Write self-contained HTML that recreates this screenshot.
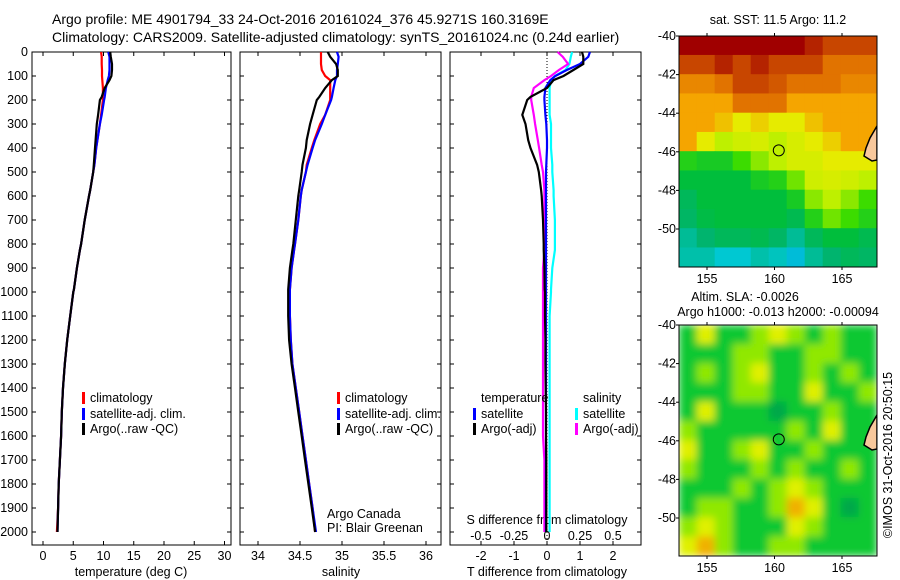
<!DOCTYPE html>
<html><head><meta charset="utf-8"><style>
body{margin:0;background:#fff}
svg{display:block;font-family:"Liberation Sans",sans-serif}
text{font-size:12.5px;fill:#000}
</style></head><body>
<svg id="s" width="900" height="580" viewBox="0 0 900 580">
<text x="52" y="24" style="font-size:14px">Argo profile: ME 4901794_33 24-Oct-2016 20161024_376 45.9271S 160.3169E</text>
<text x="52" y="42" style="font-size:14px">Climatology: CARS2009. Satellite-adjusted climatology: synTS_20161024.nc (0.24d earlier)</text>
<g id="g"></g>
</svg>
<script>
// ---- data ----
const depths=[0,20,50,75,100,117,150,187,200,262,300,367,400,470,500,575,600,700,800,825,900,990,1000,1100,1200,1300,1400,1500,1600,1700,1800,1900,2000];
const tArgo=[11.1,11.2,11.4,11.4,11.3,11.0,10.2,9.7,9.4,9.1,8.9,8.7,8.6,8.4,8.3,7.8,7.6,6.9,6.3,6.1,5.6,5.1,5.0,4.5,4.0,3.6,3.3,3.1,3.0,2.8,2.6,2.5,2.4];
const tClim=[9.6,9.7,9.7,9.75,9.75,9.8,9.9,9.9,9.9,9.6,9.4,9.0,8.8,8.5,8.3,7.8,7.6,6.9,6.3,6.1,5.6,5.1,5.0,4.5,4.0,3.6,3.3,3.1,3.0,2.8,2.6,2.5,2.3];
const tSat=[10.8,11.0,11.0,11.0,10.9,10.7,10.4,10.2,10.1,9.7,9.4,9.0,8.8,8.5,8.3,7.8,7.6,6.9,6.3,6.1,5.6,5.1,5.0,4.5,4.0,3.6,3.3,3.1,3.0,2.8,2.6,2.5,2.4];
const sArgo=[34.83,34.86,34.93,34.95,34.95,34.88,34.80,34.73,34.70,34.65,34.62,34.58,34.57,34.53,34.52,34.49,34.48,34.45,34.42,34.41,34.38,34.36,34.36,34.36,34.37,34.40,34.44,34.48,34.52,34.56,34.60,34.64,34.68];
const sClim=[34.75,34.75,34.75,34.76,34.80,34.86,34.86,34.86,34.86,34.80,34.74,34.67,34.64,34.58,34.57,34.52,34.51,34.48,34.44,34.43,34.40,34.38,34.38,34.38,34.39,34.41,34.45,34.49,34.53,34.57,34.61,34.65,34.68];
const sSat=[34.94,34.96,34.95,34.94,34.94,34.92,34.90,34.88,34.87,34.80,34.76,34.68,34.65,34.59,34.57,34.52,34.51,34.48,34.44,34.43,34.40,34.38,34.38,34.38,34.39,34.41,34.45,34.49,34.53,34.57,34.61,34.65,34.69];
const dT_argo=[1.06,1.10,1.10,0.8,0.5,0.2,0.0,-0.5,-0.6,-0.75,-0.65,-0.57,-0.5,-0.3,-0.25,-0.18,-0.16,-0.12,-0.1,-0.1,-0.08,-0.07,-0.06,-0.06,-0.05,-0.05,-0.04,-0.03,-0.03,-0.02,-0.02,-0.02,-0.02];
const dT_sat=[1.3,1.25,1.0,0.6,0.25,0.1,-0.05,-0.08,-0.08,-0.05,-0.02,0.0,0.0,-0.02,-0.03,-0.03,-0.03,-0.03,-0.03,-0.03,-0.03,-0.03,-0.03,-0.03,-0.03,-0.03,-0.03,-0.03,-0.03,-0.03,-0.03,-0.03,-0.03];
const dS_argo=[0.08,0.12,0.16,0.09,0.03,-0.02,-0.1,-0.12,-0.12,-0.1,-0.09,-0.07,-0.06,-0.04,-0.03,-0.02,-0.02,-0.02,-0.02,-0.02,-0.03,-0.03,-0.03,-0.03,-0.03,-0.03,-0.03,-0.03,-0.03,-0.02,-0.02,-0.02,-0.02];
const dS_sat=[0.19,0.18,0.17,0.14,0.06,0.03,0.02,0.02,0.02,0.02,0.03,0.03,0.03,0.04,0.04,0.05,0.05,0.06,0.06,0.06,0.04,0.03,0.03,0.02,0.02,0.02,0.02,0.02,0.02,0.02,0.02,0.02,0.02];
const depthTicks=[0,100,200,300,400,500,600,700,800,900,1000,1100,1200,1300,1400,1500,1600,1700,1800,1900,2000];
const tTicks=[0,5,10,15,20,25,30];
const sTicks=[34,34.5,35,35.5,36];
const dTTicks=[-2,-1,0,1,2];
const dSTicks=[-0.5,-0.25,0,0.25,0.5];
const dSLabels=["-0.5","-0.25","0","0.25","0.5"];
const latTicks=[-40,-42,-44,-46,-48,-50];
const lonTicks=[155,160,165];
const sstGrid=[
[14,14,14,14,14,14,14,13.5,13,13,13],
[13,13,13.5,13,13.5,13,13,13,12.5,12.5,12.5],
[12.3,12.3,12.5,13,13,12.8,12.5,12.5,12.5,12.3,12.3],
[12,12,12,12.5,12.5,12.5,12,12,12,12,12],
[12,12,11.8,11.5,11.7,11.5,11.5,11.8,12,12,12],
[12,11.5,11,11.2,11.3,11,11.3,11.5,11.7,12,12],
[10.3,10.2,10.2,10.5,10.8,11,11.3,11.3,11.5,11.5,11.5],
[10,10,10,10,10.2,10.3,10.7,11.2,11.3,11.2,11],
[9.7,10,10,10,10,10,10.2,10.8,11,10.8,10.5],
[9.6,9.9,10,10,10,10,9.8,10.3,10.7,10.5,10.3],
[9.3,9.5,9.7,9.7,9.8,9.6,9.3,9.7,10,10,9.8],
[9.2,9.2,9,9,9.2,9.1,8.9,9.3,9.5,9.7,9.6]];
const slaGrid=[
[1,3,1,1,2,3,2,1,2,1,1],[1,1,1,2,2,1,1,2,2,1,1],[1,2,1,2,3,1,1,2,1,2,1],
[1,1,1,2,2,1,1,3,1,1,2],[1,3,1,1,1,0,1,1,2,1,1],[2,1,1,1,1,1,2,1,3,1,1],
[3,1,1,2,3,1,1,2,1,1,1],[2,1,1,1,2,1,2,1,1,2,1],[1,1,1,2,1,2,3,2,1,1,1],
[1,2,2,1,1,2,4,3,1,0,1],[2,3,2,1,1,1,3,2,1,1,1],[3,4,2,1,1,2,2,1,1,1,1]];
const argoLon=160.3169, argoLat=-45.9271;

// ---- drawing ----
const NS="http://www.w3.org/2000/svg";const G=document.getElementById('g');
function mk(t,a,p){const e=document.createElementNS(NS,t);for(const k in a)e.setAttribute(k,a[k]);(p||G).appendChild(e);return e;}
const yD=d=>52+0.24*d;
function panel(x0,x1,name){
  const r=mk('rect',{x:x0,y:52,width:x1-x0,height:493,fill:'none',stroke:'#000','stroke-width':1});
  
  
  depthTicks.forEach(d=>{mk('line',{x1:x0,x2:x0+4,y1:yD(d),y2:yD(d),stroke:'#000'});mk('line',{x1:x1-4,x2:x1,y1:yD(d),y2:yD(d),stroke:'#000'});});
}
function xt(x,lab,yy,name){mk('line',{x1:x,x2:x,y1:52,y2:56,stroke:'#000'});mk('line',{x1:x,x2:x,y1:541,y2:545,stroke:'#000'});
  const t=mk('text',{x:x,y:yy,'text-anchor':'middle'});t.textContent=lab;
  
  }
function line(vals,xf,col,name){const pts=depths.map((d,i)=>xf(vals[i]).toFixed(1)+','+yD(d).toFixed(1)).join(' ');
  const p=mk('polyline',{points:pts,fill:'none',stroke:col,'stroke-width':2.2});
  
  }
function txt(x,y,s,name,anchor){const t=mk('text',{x:x,y:y,'text-anchor':anchor||'start'});t.textContent=s;
  
  return t;}
function leg(x,y,col,s,name){mk('rect',{x:x,y:y-10,width:3,height:12,fill:col});txt(x+8,y,s,name);}

// panel 1
const xT=v=>43+6.05*v;
panel(32,231,'temperature-panel');
depthTicks.forEach(d=>txt(28,yD(d)+4,String(d),'depth-tick-label','end'));
tTicks.forEach(v=>xt(xT(v),String(v),560,'temperature-tick-label'));
txt(131,576,'temperature (deg C)','x-axis-title-temperature','middle');
line(tClim,xT,'#f00','temperature-climatology-line');
line(tSat,xT,'#00f','temperature-satellite-line');
line(tArgo,xT,'#000','temperature-argo-line');
leg(82,402,'#f00','climatology','legend-climatology');
leg(82,418,'#00f','satellite-adj. clim.','legend-satellite-adj');
leg(82,433,'#000','Argo(..raw -QC)','legend-argo');

// panel 2
const xS=v=>258+84*(v-34);
panel(240,441,'salinity-panel');
sTicks.forEach(v=>xt(xS(v),String(v),560,'salinity-tick-label'));
txt(341,576,'salinity','x-axis-title-salinity','middle');
line(sClim,xS,'#f00','salinity-climatology-line');
line(sSat,xS,'#00f','salinity-satellite-line');
line(sArgo,xS,'#000','salinity-argo-line');
leg(337,402,'#f00','climatology','legend-climatology-2');
leg(337,418,'#00f','satellite-adj. clim.','legend-satellite-adj-2');
leg(337,433,'#000','Argo(..raw -QC)','legend-argo-2');
txt(327,518,'Argo Canada','credit-argo-canada');
txt(327,532,'PI: Blair Greenan','credit-pi');

// panel 3
const xDT=v=>547+33*v, xDS=v=>547+132*v;
panel(450,641,'difference-panel');
mk('line',{x1:547,x2:547,y1:52,y2:545,stroke:'#000','stroke-dasharray':'1,2'});
dTTicks.forEach(v=>xt(xDT(v),String(v),560,'t-diff-tick-label'));
dSTicks.forEach((v,i)=>txt(xDS(v),540,dSLabels[i],'s-diff-tick-label','middle'));
txt(547,524,'S difference from climatology','s-diff-axis-title','middle');
txt(547,576,'T difference from climatology','t-diff-axis-title','middle');
line(dS_sat,xDS,'#0ff','salinity-satellite-diff-line');
line(dS_argo,xDS,'#f0f','salinity-argo-diff-line');
line(dT_sat,xDT,'#00f','temperature-satellite-diff-line');
line(dT_argo,xDT,'#000','temperature-argo-diff-line');
txt(481,402,'temperature','legend-temperature-heading');
txt(583,402,'salinity','legend-salinity-heading');
leg(473,418,'#00f','satellite','legend-t-satellite');
leg(473,433,'#000','Argo(-adj)','legend-t-argo');
leg(575,418,'#0ff','satellite','legend-s-satellite');
leg(575,433,'#f0f','Argo(-adj)','legend-s-argo');

// maps
const xL=v=>707+13.5*(v-155);
function sstCol(v){const st=[[8.5,[0,140,240]],[9,[0,200,210]],[9.5,[0,180,110]],[10,[0,190,60]],[10.5,[60,220,0]],[11,[190,240,0]],[11.5,[230,235,0]],[12,[245,165,0]],[12.5,[225,115,0]],[13,[200,70,0]],[14,[160,0,0]]];
  if(v<=st[0][0])return 'rgb('+st[0][1]+')';for(let i=1;i<st.length;i++){if(v<=st[i][0]){const f=(v-st[i-1][0])/(st[i][0]-st[i-1][0]);const c=st[i-1][1].map((a,k)=>Math.round(a+(st[i][1][k]-a)*f));return 'rgb('+c+')';}}return 'rgb('+st[st.length-1][1]+')';}
const slaCols=['#00a848','#10c830','#90e800','#e0f000','#f0b000'];
function map(y0,grid,colf,name,blur){
  const yLat=v=>y0+19.3*(-40-v);
  const x0=679,x1=877,y1=y0+231;
  const cid='c'+y0;
  const cp=mk('clipPath',{id:cid});mk('rect',{x:x0,y:y0,width:x1-x0,height:y1-y0},cp);
  const g=mk('g',{'clip-path':'url(#'+cid+')'});
  
  
  const inner=mk('g',blur?{filter:'url(#bl)'}:{},g);
  const cw=(x1-x0)/grid[0].length,ch=(y1-y0)/grid.length;
  grid.forEach((row,r)=>row.forEach((v,c)=>{const cell=mk('rect',{x:x0+c*cw-0.3,y:y0+r*ch-0.3,width:cw+0.6,height:ch+0.6,fill:colf(v)},inner);
    
    }));
  mk('path',{d:`M877 ${y0+90} L870 ${y0+102} L866 ${y0+112} L864 ${y0+120} L872 ${y0+125} L877 ${y0+124} Z`,fill:'#f8c89c',stroke:'#000','stroke-width':1.5},g);
  mk('circle',{cx:xL(argoLon),cy:yLat(argoLat),r:5.5,fill:'none',stroke:'#000'});
  mk('rect',{x:x0,y:y0,width:x1-x0,height:y1-y0,fill:'none',stroke:'#000'});
  latTicks.forEach(v=>{mk('line',{x1:x0-3,x2:x0,y1:yLat(v),y2:yLat(v),stroke:'#000'});txt(676,yLat(v)+4,String(v),'lat-tick-label','end');});
  lonTicks.forEach(v=>{mk('line',{x1:xL(v),x2:xL(v),y1:y0-3,y2:y0,stroke:'#000'});mk('line',{x1:xL(v),x2:xL(v),y1:y1,y2:y1+3,stroke:'#000'});txt(xL(v),y1+16,String(v),'lon-tick-label','middle');});
}
const defs=mk('defs',{});const f=mk('filter',{id:'bl',x:'-10%',y:'-10%',width:'120%',height:'120%'},defs);mk('feGaussianBlur',{stdDeviation:4},f);
map(36,sstGrid,sstCol,'sst-map',false);
map(325,slaGrid,v=>slaCols[v],'sla-map',true);
txt(778,24,'sat. SST: 11.5 Argo: 11.2','sst-map-title','middle');
txt(745,301,'Altim. SLA: -0.0026','sla-map-title','middle');
txt(778,316,'Argo h1000: -0.013 h2000: -0.00094','sla-map-subtitle','middle');
const im=txt(0,0,'©IMOS 31-Oct-2016 20:50:15','imos-credit','middle');
im.setAttribute('transform','translate(892,455) rotate(-90)');
</script>
</body></html>
